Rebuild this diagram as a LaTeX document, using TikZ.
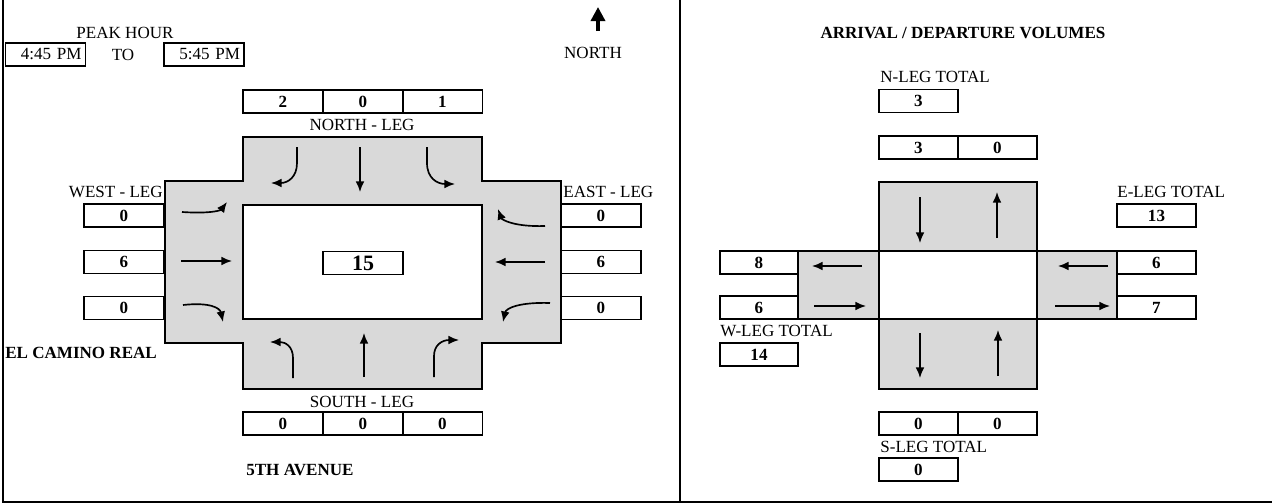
\documentclass[tikz,border=0pt]{standalone}
\usepackage{fontspec}
\setmainfont{Liberation Serif}
\usetikzlibrary{arrows.meta}
\definecolor{legfill}{HTML}{D9D9D9}

\begin{document}
\begin{tikzpicture}[x=0.02cm,y=-0.02cm,
    every node/.style={inner sep=0pt,font=\fontsize{9.7}{11}\selectfont},
    cnt/.style={draw,line width=1.1pt,minimum width=1.6cm,minimum height=0.46cm,inner sep=0pt,font=\fontsize{9.7}{11}\selectfont\bfseries},
    timebox/.style={draw,line width=1.1pt,minimum height=0.46cm,text width=1.44cm,align=right,inner xsep=0.08cm,inner ysep=0pt},
    hdr/.style={font=\fontsize{9.7}{11}\selectfont\bfseries},
    leg/.style={draw,line width=1.1pt,fill=legfill},
    mv/.style={line width=0.95pt,-{Latex[length=6pt,width=5pt]}}]
    \useasboundingbox (0,0) rectangle (1272,504);
    % Frame
    \draw[line width=1.1pt] (3,0) -- (3,502) -- (1272,502);
    \draw[line width=1.1pt] (680,0) -- (680,502);

    % Peak hour
    \node (peak) at (125,33) {PEAK HOUR};
    \node[timebox] (tfrom) at (45.5,54.5) {4:45 PM};
    \node (to) at (123,54.5) {TO};
    \node[timebox] (tuntil) at (204,54.5) {5:45 PM};

    % North sign
    \coordinate (ntail) at (598,31);
    \coordinate (nhead) at (598,7);
    \draw[line width=1.9pt,-{Triangle[length=8pt,width=8pt]}] (ntail) -- (nhead);
    \node (north) at (593,53) {NORTH};

    % Intersection
    \draw[leg] (243,137) -- (482,137) -- (482,181) -- (561,181) -- (561,343) -- (482,343) -- (482,389)
        -- (243,389) -- (243,343) -- (165,343) -- (165,181) -- (243,181) -- cycle;
    \draw[line width=1.1pt,fill=white] (243,205) rectangle (482,319);
    \node[cnt,font=\fontsize{12.5}{14}\selectfont\bfseries] (total) at (363,263) {15};

    % North leg
    \node[cnt] (nleft) at (283,101.5) {2};
    \node[cnt] (nthru) at (363,101.5) {0};
    \node[cnt] (nright) at (442.5,101.5) {1};
    \node (nleg) at (362,125) {NORTH - LEG};
    \draw[mv] (297,147) -- (297,163) .. controls (297,177) and (288,183) .. (271,183);
    \draw[mv] (360,147) -- (360,192);
    \draw[mv] (427,147) -- (427,163) .. controls (427,178) and (437,184) .. (455,184);

    % West leg
    \node[anchor=east] (wleg) at (163,192) {WEST - LEG};
    \node[cnt] (wleft) at (124,215.5) {0};
    \node[cnt] (wthru) at (124,262) {6};
    \node[cnt] (wright) at (124,308) {0};
    \draw[mv] (182,212) .. controls (212,214) and (221,210) .. (227,202);
    \draw[mv] (181,261) -- (232,261);
    \draw[mv] (183,305) .. controls (210,302) and (220,308) .. (223,322);

    % East leg
    \node[anchor=west] (eleg) at (563,192) {EAST - LEG};
    \node[cnt] (eleft) at (601,215.5) {0};
    \node[cnt] (ethru) at (601,262) {6};
    \node[cnt] (eright) at (601,308) {0};
    \draw[mv] (545,226) .. controls (515,227) and (502,220) .. (498,209);
    \draw[mv] (545,262) -- (495,262);
    \draw[mv] (550,303) .. controls (520,302) and (506,308) .. (503,322);

    % South leg
    \node (sleg) at (362,402) {SOUTH - LEG};
    \node[cnt] (sleft) at (283,423.5) {0};
    \node[cnt] (sthru) at (363,423.5) {0};
    \node[cnt] (sright) at (442.5,423.5) {0};
    \draw[mv] (293,378) -- (293,358) .. controls (293,346) and (285,342) .. (270,342);
    \draw[mv] (364,377) -- (364,333);
    \draw[mv] (434,377) -- (434,356) .. controls (434,345) and (442,340) .. (459,340);

    % Street names
    \node[hdr,anchor=west] (ecr) at (5,353) {EL CAMINO REAL};
    \node[hdr,anchor=west] (fifth) at (246,470) {5TH AVENUE};

    % Arrival / departure volumes
    \node[hdr] (title) at (963,33) {ARRIVAL / DEPARTURE VOLUMES};
    \draw[leg] (879,182) rectangle (1037,251);
    \draw[leg] (798,251) rectangle (879,319);
    \draw[leg] (1037,251) rectangle (1117,319);
    \draw[leg] (879,319) rectangle (1037,389);
    \draw[line width=1.1pt,fill=white] (879,251) rectangle (1037,319);

    % N-leg
    \node[anchor=west] (ntot) at (880,77) {N-LEG TOTAL};
    \node[cnt,minimum width=1.58cm] (ntotv) at (918.5,101) {3};
    \node[cnt,minimum width=1.58cm] (narr) at (918.5,147.5) {3};
    \node[cnt,minimum width=1.58cm] (ndep) at (997.5,147.5) {0};
    \draw[mv] (920,197) -- (920,243);
    \draw[mv] (997,238) -- (997,192);

    % W-leg
    \node[cnt,minimum width=1.56cm] (wdep) at (759,262.5) {8};
    \node[cnt,minimum width=1.56cm] (warr) at (759,307.5) {6};
    \node[anchor=west] (wtot) at (720,331) {W-LEG TOTAL};
    \node[cnt,minimum width=1.56cm] (wtotv) at (759,354.5) {14};
    \draw[mv] (862,266) -- (812,266);
    \draw[mv] (814,306) -- (866,306);

    % E-leg
    \node[anchor=west] (etot) at (1117,192) {E-LEG TOTAL};
    \node[cnt,minimum width=1.58cm] (etotv) at (1156.5,215.5) {13};
    \node[cnt,minimum width=1.58cm] (earr) at (1156.5,262.5) {6};
    \node[cnt,minimum width=1.58cm] (edep) at (1156.5,307.5) {7};
    \draw[mv] (1108,266) -- (1058,266);
    \draw[mv] (1055,306) -- (1110,306);

    % S-leg
    \draw[mv] (920,333) -- (920,378);
    \draw[mv] (998,376) -- (998,330);
    \node[cnt,minimum width=1.58cm] (sdep) at (918.5,423.5) {0};
    \node[cnt,minimum width=1.58cm] (sarr) at (997.5,423.5) {0};
    \node[anchor=west] (stot) at (880,447) {S-LEG TOTAL};
    \node[cnt,minimum width=1.58cm] (stotv) at (918.5,469.5) {0};
\end{tikzpicture}
\end{document}
